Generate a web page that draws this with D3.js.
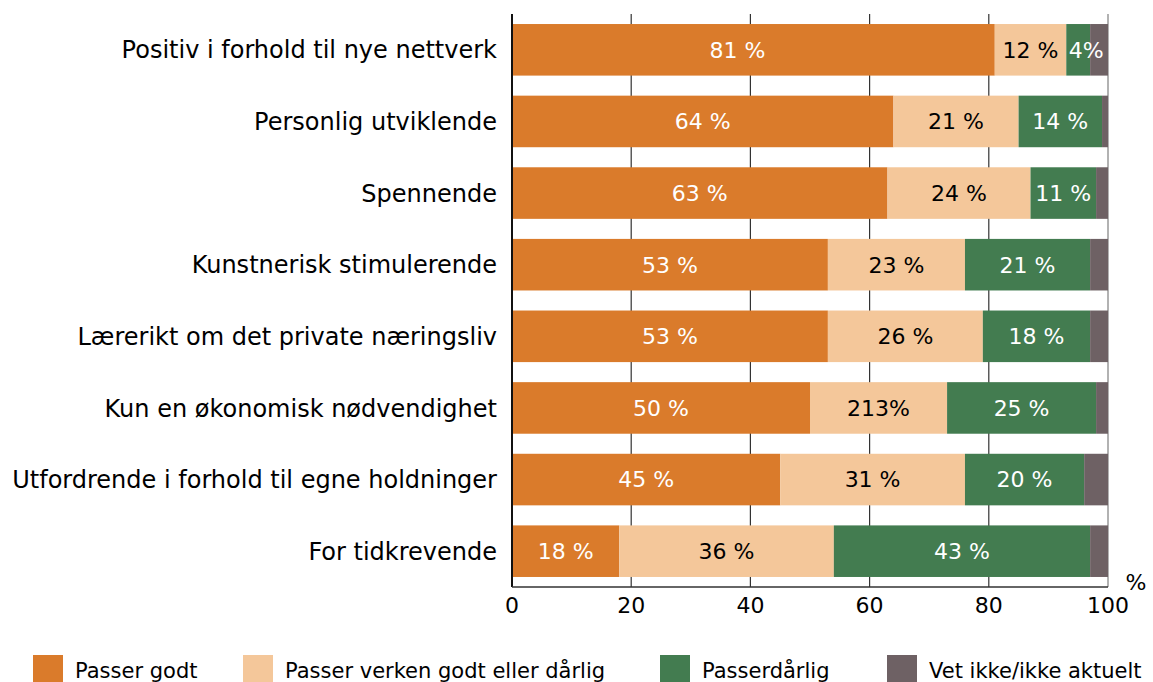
<!DOCTYPE html>
<html><head><meta charset="utf-8">
<script src="https://cdn.jsdelivr.net/npm/d3@7"></script>
<style>body{margin:0;background:#fff}svg{display:block}text{font-family:"DejaVu Sans",Verdana,sans-serif}</style>
</head><body>
<svg id="c" width="1153" height="682"></svg>
<script>
const categories = ["Positiv i forhold til nye nettverk","Personlig utviklende","Spennende","Kunstnerisk stimulerende","Lærerikt om det private næringsliv","Kun en økonomisk nødvendighet","Utfordrende i forhold til egne holdninger","For tidkrevende"];
const seriesNames = ["Passer godt","Passer verken godt eller dårlig","Passerdårlig","Vet ikke/ikke aktuelt"];
const godt   = [81,64,63,53,53,50,45,18];
const verken = [12,21,24,23,26,23,31,36];
const darlig = [4,14,11,21,18,25,20,43];
const vetIkke= [3,1,2,3,3,2,4,3];
const godtLabels   = ["81 %","64 %","63 %","53 %","53 %","50 %","45 %","18 %"];
const verkenLabels = ["12 %","21 %","24 %","23 %","26 %","213%","31 %","36 %"];
const darligLabels = ["4%","14 %","11 %","21 %","18 %","25 %","20 %","43 %"];
const xTicks = [0,20,40,60,80,100];

const colors = ["#DA7B2B","#F4C79A","#437C50","#6E6164"];
const textColors = ["#fff","#000","#fff",null];
const seriesVals = [godt,verken,darlig,vetIkke];
const seriesLabels = [godtLabels,verkenLabels,darligLabels,null];

const svg = d3.select("#c");
const L=512, R=1108, T=14, B=587;
const x = d3.scaleLinear().domain([0,100]).range([L,R]);
const y = d3.scaleBand().domain(categories).range([T,B]).paddingInner(0.28).paddingOuter(0.14);

// gridlines
svg.append("g").selectAll("line").data(xTicks.filter(d=>d>0&&d<100)).join("line")
  .attr("x1",d=>x(d)).attr("x2",d=>x(d)).attr("y1",T).attr("y2",B)
  .attr("stroke","#333").attr("stroke-width",1.2);
svg.append("line").attr("x1",x(100)).attr("x2",x(100)).attr("y1",T).attr("y2",B).attr("stroke","#999").attr("stroke-width",1.5);

// stacked data
const rows = categories.map((c,i)=>{let acc=0;return seriesVals.map((s,k)=>{const r={cat:c,i,k,x0:acc,x1:acc+s[i],label:seriesLabels[k]?seriesLabels[k][i]:null};acc+=s[i];return r;});});

const g = svg.append("g");
rows.forEach(row=>{
  g.selectAll(null).data(row).join("rect")
    .attr("x",d=>x(d.x0)).attr("width",d=>x(d.x1)-x(d.x0))
    .attr("y",d=>y(d.cat)).attr("height",y.bandwidth())
    .attr("fill",d=>colors[d.k]);
  g.selectAll(null).data(row.filter(d=>d.label)).join("text")
    .attr("x",d=>{
      const c=(x(d.x0)+x(d.x1))/2;
      if(d.k===2&&d.x1-d.x0<6) return c+8;
      if(d.k===0&&d.i===0) return c-16;
      return c;})
    .attr("y",d=>y(d.cat)+y.bandwidth()/2)
    .attr("dy","0.36em").attr("text-anchor","middle")
    .attr("font-size",22).attr("fill",d=>textColors[d.k]).text(d=>d.label);
});

// axes
svg.append("line").attr("x1",L).attr("x2",L).attr("y1",T).attr("y2",B).attr("stroke","#111").attr("stroke-width",2);
svg.append("line").attr("x1",L).attr("x2",R).attr("y1",B).attr("y2",B).attr("stroke","#333").attr("stroke-width",1.5);

svg.append("g").selectAll("text").data(xTicks).join("text")
  .attr("x",d=>x(d)).attr("y",613).attr("text-anchor","middle").attr("font-size",22).attr("fill","#000").text(d=>d);
svg.append("text").attr("x",1136).attr("y",590).attr("text-anchor","middle").attr("font-size",22).text("%");

svg.append("g").selectAll("text").data(categories).join("text")
  .attr("x",497).attr("y",d=>y(d)+y.bandwidth()/2).attr("dy","0.36em")
  .attr("text-anchor","end").attr("font-size",24).attr("fill","#000").text(d=>d);

// legend
const legX=[33,243,660,887];
const lg = svg.append("g").selectAll("g").data(seriesNames).join("g");
lg.append("rect").attr("x",(d,i)=>legX[i]).attr("y",655).attr("width",30).attr("height",30).attr("fill",(d,i)=>colors[i]);
lg.append("text").attr("x",(d,i)=>legX[i]+42).attr("y",678).attr("font-size",21).attr("fill","#000").text(d=>d);
</script>
</body></html>
